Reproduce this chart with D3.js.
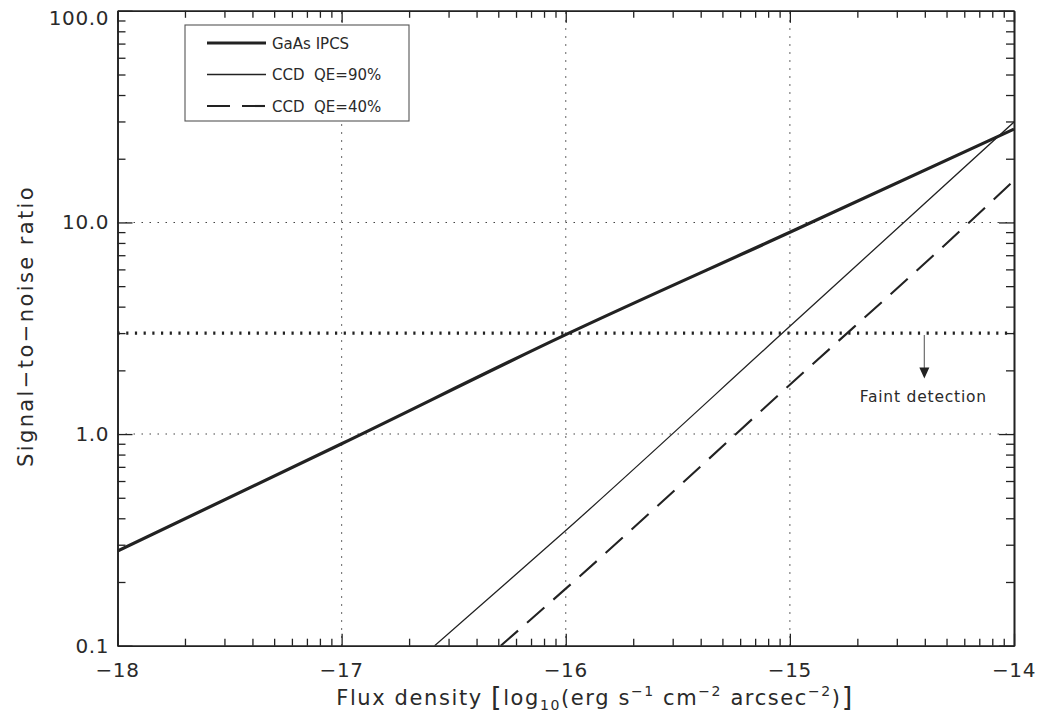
<!DOCTYPE html>
<html>
<head>
<meta charset="utf-8">
<script src="https://cdn.jsdelivr.net/npm/d3@7"></script>
<style>
  html, body { margin: 0; padding: 0; background: #fff; }
  svg text { font-family: "DejaVu Sans", "Liberation Sans", sans-serif; fill: #2a2a2a; }
</style>
</head>
<body>
<svg id="chart" width="1039" height="713"></svg>
<script>
// ---------- data ----------
const xMajorTicks = [-18, -17, -16, -15, -14];
const xTickLabels = ["\u221218", "\u221217", "\u221216", "\u221215", "\u221214"];
const xGrid = [-17, -16, -15];
const yMajorTicks = [0.1, 1, 10, 100];
const yTickLabels = ["0.1", "1.0", "10.0", "100.0"];
const yGrid = [1, 10];

const gaasX = [-18, -17, -16, -15, -14];
const gaasY = [0.28, 0.90, 2.95, 8.98, 27.6];
const ccd90X = [-16.585, -16, -15, -14];
const ccd90Y = [0.1, 0.35, 3.23, 29.8];
const ccd40X = [-16.29, -16, -15, -14.2, -14];
const ccd40Y = [0.1, 0.186, 1.71, 10, 15.8];

const thresholdSNR = 3;
const arrowX = -14.4;
const arrowTipSNR = 1.83;
const annotation = "Faint detection";

const seriesNames = ["GaAs IPCS", "CCD  QE=90%", "CCD  QE=40%"];

// ---------- layout ----------
const svg = d3.select("#chart");
const L = 117.5, R = 1014, T = 10.8, B = 645.7;
const x = d3.scaleLinear().domain([-18, -14]).range([L, R]);
const y = d3.scaleLog().domain([0.1, 100]).range([B, T]);
const ink = "#222";

// minor ticks
const xMinor = [];
for (let d = -18; d < -14; d++) for (let k = 2; k <= 9; k++) xMinor.push(d + Math.log10(k));
const yMinor = [];
for (let e = -1; e <= 1; e++) for (let k = 2; k <= 9; k++) yMinor.push(k * Math.pow(10, e));

// grid
const grid = svg.append("g").attr("stroke", "#444").attr("stroke-width", 1.1)
  .attr("stroke-dasharray", "1.5,6.5").attr("fill", "none");
grid.selectAll("line.gx").data(xGrid).join("line")
  .attr("x1", d => x(d)).attr("x2", d => x(d)).attr("y1", B).attr("y2", T);
grid.selectAll("line.gy").data(yGrid).join("line")
  .attr("y1", d => y(d)).attr("y2", d => y(d)).attr("x1", L).attr("x2", R);

// axes (all ticks point inward)
function styleAxis(g) {
  g.selectAll("path.domain").attr("stroke", ink).attr("stroke-width", 1.6);
  g.selectAll(".tick line").attr("stroke", ink).attr("stroke-width", 1.3);
  g.selectAll(".tick text").remove();
}
svg.append("g").attr("transform", `translate(0,${B})`)
  .call(d3.axisBottom(x).tickValues(xMinor).tickSizeInner(-7).tickSizeOuter(0)).call(styleAxis);
svg.append("g").attr("transform", `translate(0,${B})`)
  .call(d3.axisBottom(x).tickValues(xMajorTicks).tickSizeInner(-12).tickSizeOuter(0)).call(styleAxis);
svg.append("g").attr("transform", `translate(0,${T})`)
  .call(d3.axisTop(x).tickValues(xMinor).tickSizeInner(-7).tickSizeOuter(0)).call(styleAxis);
svg.append("g").attr("transform", `translate(0,${T})`)
  .call(d3.axisTop(x).tickValues(xMajorTicks).tickSizeInner(-12).tickSizeOuter(0)).call(styleAxis);
svg.append("g").attr("transform", `translate(${L},0)`)
  .call(d3.axisLeft(y).tickValues(yMinor).tickSizeInner(-8).tickSizeOuter(0)).call(styleAxis);
svg.append("g").attr("transform", `translate(${L},0)`)
  .call(d3.axisLeft(y).tickValues(yMajorTicks).tickSizeInner(-15).tickSizeOuter(0)).call(styleAxis);
svg.append("g").attr("transform", `translate(${R},0)`)
  .call(d3.axisRight(y).tickValues(yMinor).tickSizeInner(-8).tickSizeOuter(0)).call(styleAxis);
svg.append("g").attr("transform", `translate(${R},0)`)
  .call(d3.axisRight(y).tickValues(yMajorTicks).tickSizeInner(-15).tickSizeOuter(0)).call(styleAxis);

// tick labels
svg.append("g").selectAll("text").data(xMajorTicks).join("text")
  .attr("x", d => x(d)).attr("y", 677).attr("text-anchor", "middle")
  .attr("font-size", 20).attr("letter-spacing", 0.6).text((d, i) => xTickLabels[i]);
svg.append("g").selectAll("text").data(yMajorTicks).join("text")
  .attr("x", 109).attr("y", (d, i) => y(d) + (i === 3 ? 14 : 7)).attr("text-anchor", "end")
  .attr("font-size", 20).attr("letter-spacing", 0.6).text((d, i) => yTickLabels[i]);

// axis titles
const xt = svg.append("text").attr("x", 595).attr("y", 705).attr("text-anchor", "middle")
  .attr("font-size", 21).attr("letter-spacing", 1.6);
xt.append("tspan").text("Flux density ");
xt.append("tspan").attr("font-size", 27).attr("dy", 1).text("[");
xt.append("tspan").attr("dy", -1).text("log");
xt.append("tspan").attr("font-size", 14).attr("dy", 5).text("10");
xt.append("tspan").attr("dy", -5).text("(erg s");
xt.append("tspan").attr("font-size", 14).attr("dy", -9).text("\u22121");
xt.append("tspan").attr("dy", 9).text(" cm");
xt.append("tspan").attr("font-size", 14).attr("dy", -9).text("\u22122");
xt.append("tspan").attr("dy", 9).text(" arcsec");
xt.append("tspan").attr("font-size", 14).attr("dy", -9).text("\u22122");
xt.append("tspan").attr("dy", 9).text(")");
xt.append("tspan").attr("font-size", 27).attr("dy", 1).text("]");

svg.append("text").attr("transform", "translate(33,326) rotate(-90)")
  .attr("text-anchor", "middle").attr("font-size", 21).attr("letter-spacing", 2.4)
  .text("Signal\u2212to\u2212noise ratio");

// clip
svg.append("clipPath").attr("id", "clip").append("rect")
  .attr("x", L).attr("y", T).attr("width", R - L).attr("height", B - T);
const plot = svg.append("g").attr("clip-path", "url(#clip)");

// threshold line
plot.append("line").attr("x1", L).attr("x2", R + 2)
  .attr("y1", y(thresholdSNR)).attr("y2", y(thresholdSNR))
  .attr("stroke", ink).attr("stroke-width", 3.2).attr("stroke-dasharray", "2.2,6.5");

// series
const line = d3.line().x(d => x(d[0])).y(d => y(d[1])).curve(d3.curveMonotoneX);
const series = [
  { xs: gaasX, ys: gaasY, w: 3.2, dash: null },
  { xs: ccd90X, ys: ccd90Y, w: 1.3, dash: null },
  { xs: ccd40X, ys: ccd40Y, w: 2.1, dash: "23,12" }
];
series.forEach(s => {
  plot.append("path").datum(s.xs.map((v, i) => [v, s.ys[i]]))
    .attr("d", line).attr("fill", "none").attr("stroke", ink)
    .attr("stroke-width", s.w).attr("stroke-dasharray", s.dash);
});

// arrow annotation
const ax = x(arrowX);
svg.append("line").attr("x1", ax).attr("x2", ax)
  .attr("y1", y(thresholdSNR) + 2).attr("y2", y(arrowTipSNR) - 8)
  .attr("stroke", "#777").attr("stroke-width", 1.3);
const tip = y(arrowTipSNR);
svg.append("path").attr("d", `M${ax - 5},${tip - 11} L${ax + 5},${tip - 11} L${ax},${tip} Z`)
  .attr("fill", ink);
svg.append("text").attr("x", ax - 1).attr("y", 402).attr("text-anchor", "middle")
  .attr("font-size", 15.5).attr("letter-spacing", 0.8).text(annotation);

// legend
const lg = svg.append("g");
lg.append("rect").attr("x", 185).attr("y", 25).attr("width", 224).attr("height", 96)
  .attr("fill", "#fff").attr("stroke", "#555").attr("stroke-width", 1.1);
const rowsY = [43, 74.5, 106];
series.forEach((s, i) => {
  lg.append("line").attr("x1", 207).attr("x2", 266).attr("y1", rowsY[i]).attr("y2", rowsY[i])
    .attr("stroke", ink).attr("stroke-width", s.w).attr("stroke-dasharray", s.dash);
  lg.append("text").attr("x", 272).attr("y", rowsY[i] + 5.5).attr("font-size", 15)
    .attr("xml:space", "preserve").style("white-space", "pre").text(seriesNames[i]);
});
</script>
</body>
</html>
